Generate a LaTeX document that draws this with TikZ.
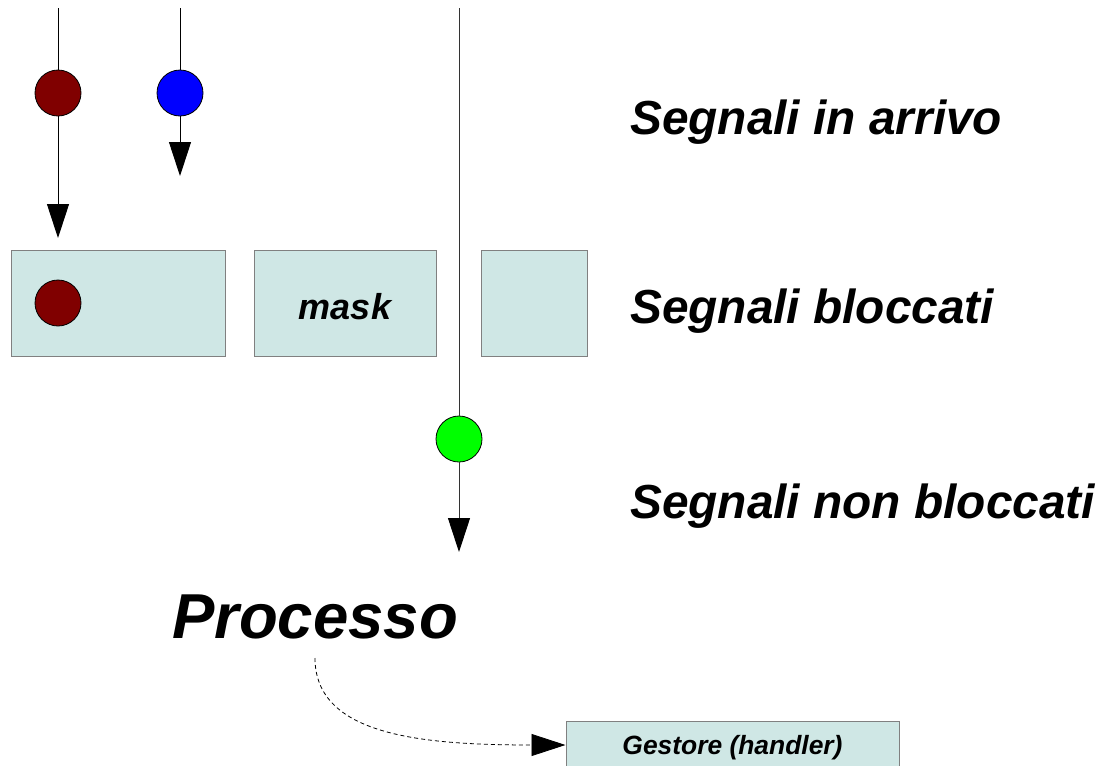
\documentclass[tikz,border=0pt]{standalone}
\usepackage{fontspec}
\setmainfont{Liberation Sans}
\usetikzlibrary{arrows.meta}
\begin{document}
\begin{tikzpicture}[x=1pt,y=-1pt,
  sig/.style={circle,draw=black,line width=0.8pt,minimum size=46pt,inner sep=0pt},
  wire/.style={line width=1pt,draw=black},
  longwire/.style={line width=1pt,draw=black!80},
  tiparrow/.style={-{Triangle[width=22pt,length=34pt,color=black]}},
  cell/.style={draw=black!50,line width=1pt,fill=cellfill,inner sep=0pt},
  lbl/.style={font=\fontsize{47.8}{50}\selectfont\bfseries\itshape,inner sep=0pt,anchor=base west},
  dashflow/.style={line width=0.8pt,dash pattern=on 4pt off 3pt,-{Triangle[width=22pt,length=34pt]}}
]
\definecolor{cellfill}{HTML}{CFE7E5}
\definecolor{sigred}{HTML}{800000}
\definecolor{sigblue}{HTML}{0000FF}
\definecolor{siggreen}{HTML}{00FF00}
\useasboundingbox (0,0) rectangle (1101,766);

% blocked-signal mask cells
\node[cell,minimum width=214pt,minimum height=106pt] (b1) at (118,303) {};
\node[cell,minimum width=182pt,minimum height=106pt] (b2) at (345,303) {};
\node[cell,minimum width=106pt,minimum height=106pt] (b3) at (534,303) {};
\node[font=\fontsize{36}{40}\selectfont\bfseries\itshape,inner sep=0pt,anchor=base] (mask) at (345,319) {mask};

% incoming signal wires
\coordinate (t1) at (58,8);
\coordinate (e1) at (58,238);
\coordinate (t2) at (180,8);
\coordinate (e2) at (180,176);
\coordinate (t3) at (459,8);
\coordinate (e3) at (459,552);

\node[sig,fill=sigred] (s1) at (58,93) {};
\node[sig,fill=sigblue] (s2) at (180,93) {};
\node[sig,fill=siggreen] (s3) at (459,439) {};
\node[sig,fill=sigred] (s4) at (58,303) {};

\draw[wire] (t1) -- (s1);
\draw[wire,tiparrow] (s1) -- (e1);
\draw[wire] (t2) -- (s2);
\draw[wire,tiparrow] (s2) -- (e2);
\draw[longwire] (t3) -- (s3);
\draw[longwire,tiparrow] (s3) -- (e3);

% row labels
\node[lbl] (l1) at (630,134) {Segnali in arrivo};
\node[lbl] (l2) at (630,323) {Segnali bloccati};
\node[lbl] (l3) at (630,518) {Segnali non bloccati};

% process and handler
\node[font=\fontsize{63.5}{66}\selectfont\bfseries\itshape,inner sep=0pt,anchor=base] (proc) at (315,638) {Processo};
\node[cell,minimum width=333pt,minimum height=54pt,font=\fontsize{26.4}{28}\selectfont\bfseries\itshape] (hand) at (732.5,748) {Gestore (handler)};

\coordinate (ds) at (315,658);
\draw[dashflow] (ds) .. controls (315,735) and (420,745) .. (hand.west |- 0,745);
\end{tikzpicture}
\end{document}
